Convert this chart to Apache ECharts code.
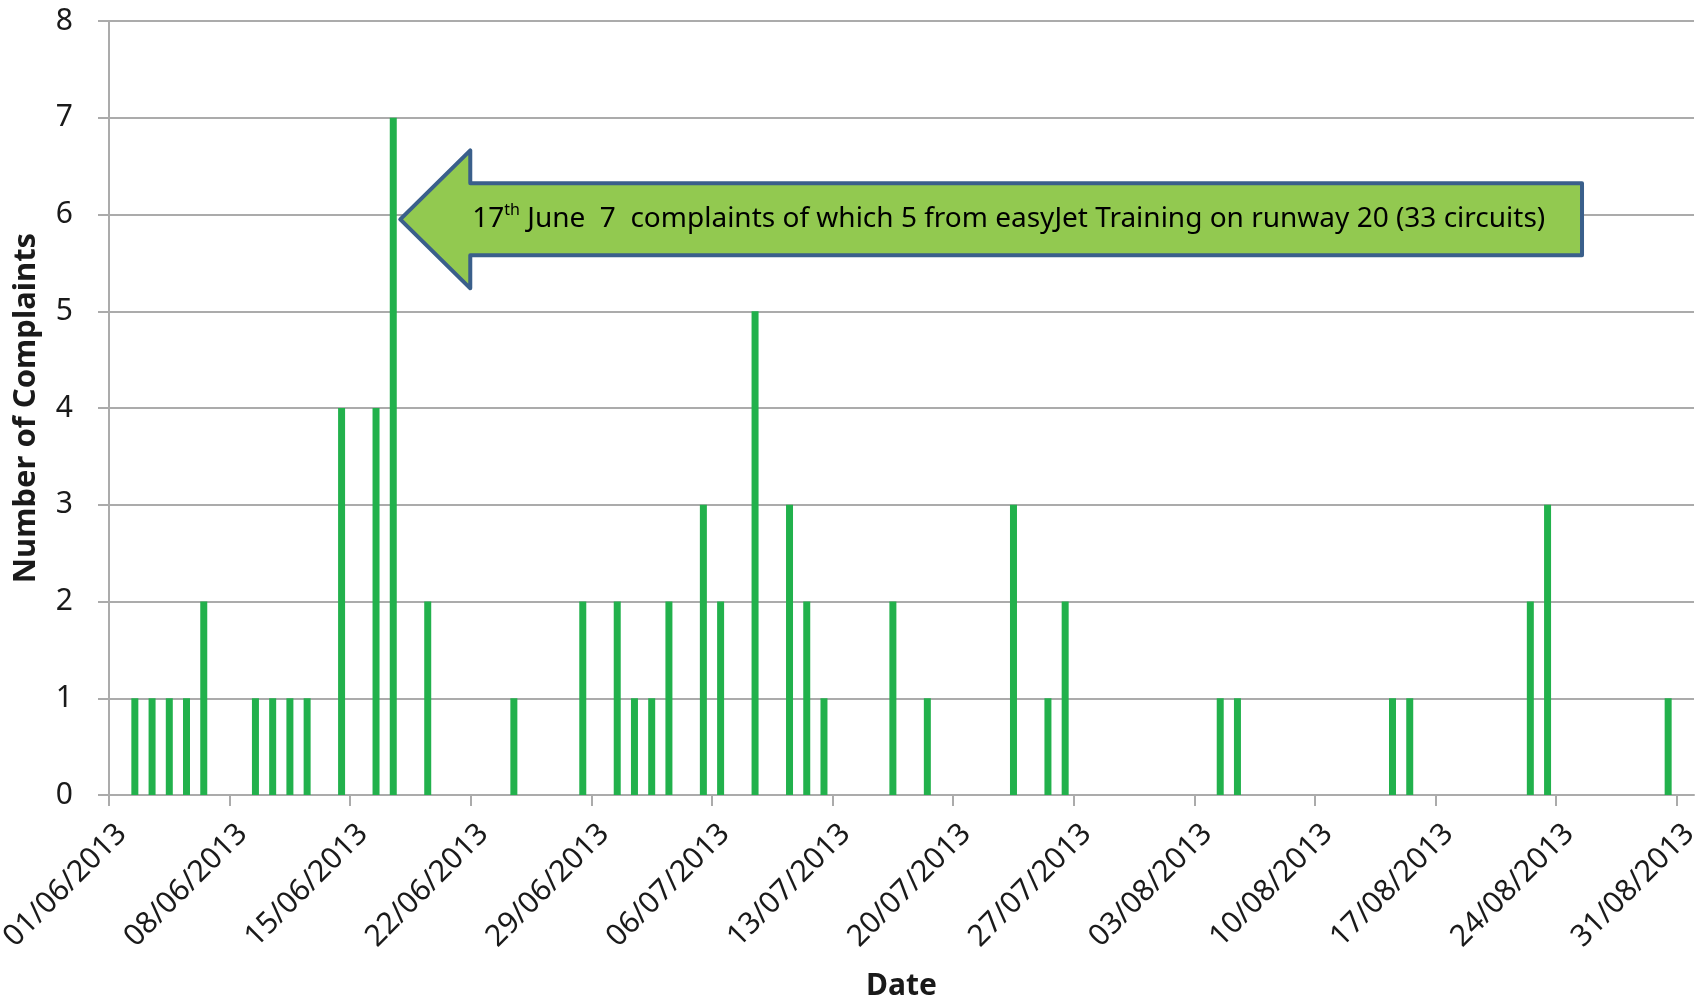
<!DOCTYPE html>
<html>
<head>
<meta charset="utf-8">
<script src="https://cdn.jsdelivr.net/npm/echarts@6/dist/echarts.min.js"></script>
<style>
  html, body { margin: 0; padding: 0; background: #fff; }
  #chart { width: 1705px; height: 1000px; }
</style>
</head>
<body>
<div id="chart"></div>
<script>
// days with complaints (01/06/2013 - 31/08/2013)
const complaintDates = [
  '02/06/2013', '03/06/2013', '04/06/2013', '05/06/2013', '06/06/2013',
  '09/06/2013', '10/06/2013', '11/06/2013', '12/06/2013', '14/06/2013',
  '16/06/2013', '17/06/2013', '19/06/2013', '24/06/2013', '28/06/2013',
  '30/06/2013', '01/07/2013', '02/07/2013', '03/07/2013', '05/07/2013',
  '06/07/2013', '08/07/2013', '10/07/2013', '11/07/2013', '12/07/2013',
  '16/07/2013', '18/07/2013', '23/07/2013', '25/07/2013', '26/07/2013',
  '04/08/2013', '05/08/2013', '14/08/2013', '15/08/2013', '22/08/2013',
  '23/08/2013', '30/08/2013'
]
const complaintCounts = [
  1, 1, 1, 1, 2,
  1, 1, 1, 1, 4,
  4, 7, 2, 1, 2,
  2, 1, 1, 2, 3,
  2, 5, 3, 2, 1,
  2, 1, 3, 1, 2,
  1, 1, 1, 1, 2,
  3, 1
]
const tickLabels = [
  '01/06/2013', '08/06/2013', '15/06/2013', '22/06/2013', '29/06/2013',
  '06/07/2013', '13/07/2013', '20/07/2013', '27/07/2013', '03/08/2013',
  '10/08/2013', '17/08/2013', '24/08/2013', '31/08/2013'
]
const yTicks = [0, 1, 2, 3, 4, 5, 6, 7, 8]
const noteText = ' June  7  complaints of which 5 from easyJet Training on runway 20 (33 circuits)'

const START = Date.UTC(2013, 5, 1)
const DAY = 86400000
function dayOffset(s) {
  const p = s.split('/')
  return (Date.UTC(+p[2], +p[1] - 1, +p[0]) - START) / DAY
}

// bar sits in the middle of its day slot
const barData = complaintDates.map((d, i) => [dayOffset(d) + 0.5, complaintCounts[i]])
const tickValues = tickLabels.map(dayOffset)
// rotated labels hang a little to the right of their tick, as in Excel
const labelValues = tickValues.map(v => v + 0.75)

const font = '"Noto Sans", "Open Sans", sans-serif'
const grey = '#ABABAB'

const chart = echarts.init(document.getElementById('chart'))
chart.setOption({
  animation: false,
  backgroundColor: '#fff',
  grid: { left: 109, right: 11, top: 21, bottom: 205, outerBoundsMode: 'none', containLabel: false },
  xAxis: {
    type: 'value',
    min: 0,
    max: 92,
    name: 'Date',
    nameLocation: 'middle',
    nameGap: 176,
    nameTextStyle: { fontFamily: font, fontWeight: 'bold', fontSize: 30, color: '#1a1a1a' },
    splitLine: { show: false },
    axisLine: { show: true, lineStyle: { color: grey, width: 2 } },
    axisTick: { show: true, length: 11, customValues: tickValues, lineStyle: { color: grey, width: 2 } },
    axisLabel: {
      customValues: labelValues,
      rotate: 45,
      margin: 34,
      fontFamily: font,
      fontSize: 30,
      color: '#1a1a1a',
      formatter: function (v) {
        const i = labelValues.indexOf(v)
        return i >= 0 ? tickLabels[i] : ''
      }
    }
  },
  yAxis: {
    type: 'value',
    min: yTicks[0],
    max: yTicks[yTicks.length - 1],
    interval: 1,
    name: 'Number of Complaints',
    nameLocation: 'middle',
    nameRotate: 90,
    nameGap: 67,
    nameTextStyle: { fontFamily: font, fontWeight: 'bold', fontSize: 31, color: '#1a1a1a' },
    axisLine: { show: true, lineStyle: { color: grey, width: 2 } },
    axisTick: { show: true, length: 11, lineStyle: { color: grey, width: 2 } },
    splitLine: { show: true, lineStyle: { color: grey, width: 2 } },
    axisLabel: { margin: 36, fontFamily: font, fontSize: 30, color: '#1a1a1a' }
  },
  series: [
    {
      name: 'Complaints',
      type: 'bar',
      barWidth: 7,
      itemStyle: { color: '#22B14C' },
      data: barData
    }
  ]
})

// callout arrow pointing at the 17th June bar
const tip = chart.convertToPixel({ gridIndex: 0 }, [dayOffset('17/06/2013') + 0.5, 5.95])
const tail = chart.convertToPixel({ gridIndex: 0 }, [85.5, 5.95])
const tx = tip[0] + 7
const ty = tip[1]
const headLen = 70
const headHalf = 69
const shaftHalf = 36
chart.setOption({
  graphic: [
    {
      type: 'polygon',
      shape: {
        points: [
          [tx, ty],
          [tx + headLen, ty - headHalf],
          [tx + headLen, ty - shaftHalf],
          [tail[0], ty - shaftHalf],
          [tail[0], ty + shaftHalf],
          [tx + headLen, ty + shaftHalf],
          [tx + headLen, ty + headHalf]
        ]
      },
      style: { fill: '#92C950', stroke: '#3A5F8B', lineWidth: 4, lineJoin: 'round' },
      z: 10
    },
    {
      type: 'text',
      x: tx + headLen + 2,
      y: ty,
      style: {
        text: '{a|17}{s|th}{a|' + noteText + '}',
        verticalAlign: 'middle',
        rich: {
          a: { fontFamily: font, fontSize: 28, color: '#1F2D5C', lineHeight: 34 },
          s: { fontFamily: font, fontSize: 16, color: '#1F2D5C', lineHeight: 34, verticalAlign: 'top', padding: [0, 0, 10, 0] }
        }
      },
      z: 11
    }
  ]
})
</script>
</body>
</html>
